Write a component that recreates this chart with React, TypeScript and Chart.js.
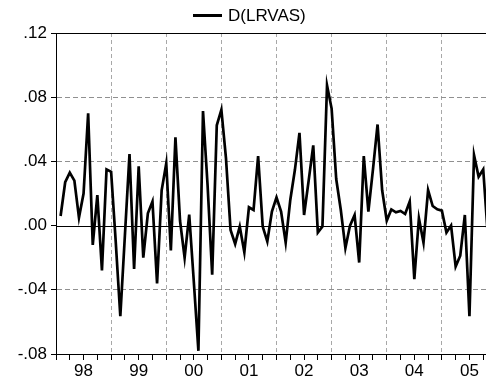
import React, { useEffect, useRef } from "react";
import { Chart, registerables } from "chart.js";

Chart.register(...registerables);

// Monthly series D(LRVAS), first observation 1998M02
const seriesName = "D(LRVAS)";
const startYear = 1998;
const startMonth = 2;
const values = [
  0.006, 0.027, 0.033, 0.028, 0.005, 0.02, 0.07, -0.012, 0.019, -0.028, 0.035, 0.0335,
  -0.01, -0.0565, -0.006, 0.0445, -0.027, 0.037, -0.02, 0.0077, 0.015, -0.036, 0.022, 0.0387,
  -0.0155, 0.055, 0.003, -0.02, 0.0068, -0.035, -0.078, 0.0714, 0.025, -0.0306, 0.0625, 0.0722,
  0.042, -0.0027, -0.0114, -0.0006, -0.0166, 0.0114, 0.0097, 0.0433, -0.0006, -0.0099, 0.0087, 0.0176,
  0.0087, -0.0106, 0.016, 0.0346, 0.0578, 0.0066, 0.028, 0.05, -0.0043, -0.0006, 0.0874, 0.0729,
  0.029, 0.0097, -0.014, 0.0, 0.0066, -0.023, 0.0433, 0.0087, 0.035, 0.063, 0.022, 0.0031,
  0.0101, 0.0083, 0.0091, 0.0072, 0.015, -0.0333, 0.0046, -0.0106, 0.0221, 0.0122, 0.0101, 0.0093,
  -0.0043, 0.0, -0.0255, -0.0188, 0.0066, -0.0565, 0.0439, 0.0304, 0.035, -0.006,
];
const yearLabels = ["98", "99", "00", "01", "02", "03", "04", "05"];
const yTickValues = [-0.08, -0.04, 0.0, 0.04, 0.08, 0.12];

const FONT = '"Liberation Sans", Arial, sans-serif';

export default function App() {
  const ref = useRef<HTMLCanvasElement>(null);

  useEffect(() => {
    const xMax = yearLabels.length * 12;
    const points = values.map((v, i) => ({ x: (startYear - 1998) * 12 + (startMonth - 1) + i, y: v }));

    const refLines = {
      id: "refLines",
      beforeDatasetsDraw(chart: any) {
        const { ctx, chartArea, scales } = chart;
        ctx.save();
        ctx.strokeStyle = "#000";
        ctx.lineWidth = 1;
        const y0 = Math.round(scales.y.getPixelForValue(0)) + 0.5;
        ctx.beginPath();
        ctx.moveTo(chartArea.left, y0);
        ctx.lineTo(chartArea.right, y0);
        const yt = Math.round(chartArea.top) + 0.5;
        ctx.moveTo(chartArea.left, yt);
        ctx.lineTo(chartArea.right, yt);
        ctx.stroke();
        ctx.restore();
      },
    };

    const legendPlugin = {
      id: "customLegend",
      afterDraw(chart: any) {
        const { ctx } = chart;
        ctx.save();
        ctx.strokeStyle = "#000";
        ctx.lineWidth = 3;
        ctx.beginPath();
        ctx.moveTo(193, 15.5);
        ctx.lineTo(222, 15.5);
        ctx.stroke();
        ctx.fillStyle = "#000";
        ctx.font = `17px ${FONT}`;
        ctx.textBaseline = "middle";
        ctx.textAlign = "left";
        ctx.fillText(seriesName, 228, 16);
        ctx.restore();
      },
    };

    const chart = new Chart(ref.current!, {
      type: "line",
      data: {
        datasets: [
          {
            label: seriesName,
            data: points,
            borderColor: "#000",
            backgroundColor: "#000",
            borderWidth: 2.7,
            pointRadius: 0,
            tension: 0,
            fill: false,
          },
        ],
      },
      options: {
        responsive: false,
        animation: false,
        events: [],
        layout: { padding: { top: 33, right: 3, left: 0, bottom: 0 } },
        plugins: { legend: { display: false }, tooltip: { enabled: false } },
        scales: {
          x: {
            type: "linear",
            min: 0,
            max: xMax,
            afterBuildTicks: (s: any) => {
              const t = [];
              for (let m = 0; m <= xMax; m += 3) t.push({ value: m });
              s.ticks = t;
            },
            afterFit: (s: any) => {
              s.height = 29;
            },
            ticks: {
              autoSkip: false,
              maxRotation: 0,
              minRotation: 0,
              padding: 1,
              color: "#000",
              font: { family: FONT, size: 17 },
              callback: (v: any) => (v % 12 === 6 ? yearLabels[(v - 6) / 12] : ""),
            },
            grid: {
              color: (c: any) => {
                const v = c.tick ? c.tick.value : -1;
                return v % 12 === 0 && v > 0 && v < xMax ? "#a8a8a8" : "rgba(0,0,0,0)";
              },
              lineWidth: 1,
              tickColor: "#000",
              tickLength: 6,
              drawTicks: true,
            },
            border: { color: "#000", width: 1, dash: [4, 3] },
          },
          y: {
            min: -0.08,
            max: 0.12,
            afterBuildTicks: (s: any) => {
              s.ticks = yTickValues.map((v) => ({ value: v }));
            },
            afterFit: (s: any) => {
              s.width = 56;
            },
            ticks: {
              padding: 4,
              color: "#000",
              font: { family: FONT, size: 17 },
              callback: (v: any) => {
                const n = Number(v);
                const s = Math.abs(n).toFixed(2).replace(/^0/, "");
                return (n < -1e-9 ? "-" : "") + s;
              },
            },
            grid: {
              color: (c: any) => {
                const v = c.tick ? c.tick.value : 0;
                return Math.abs(v) < 1e-9 || Math.abs(v - 0.12) < 1e-9 || Math.abs(v + 0.08) < 1e-9
                  ? "rgba(0,0,0,0)"
                  : "#909090";
              },
              lineWidth: 1,
              tickColor: "#000",
              tickLength: 5,
            },
            border: { color: "#000", width: 1, dash: [5, 3] },
          },
        },
      },
      plugins: [refLines, legendPlugin],
    });
    return () => chart.destroy();
  }, []);

  return (
    <div style={{ position: "fixed", left: 0, top: 0, width: 486, height: 383, overflow: "hidden", background: "#fff" }}>
      <canvas ref={ref} width={500} height={383} style={{ display: "block", width: 500, height: 383 }} />
    </div>
  );
}
